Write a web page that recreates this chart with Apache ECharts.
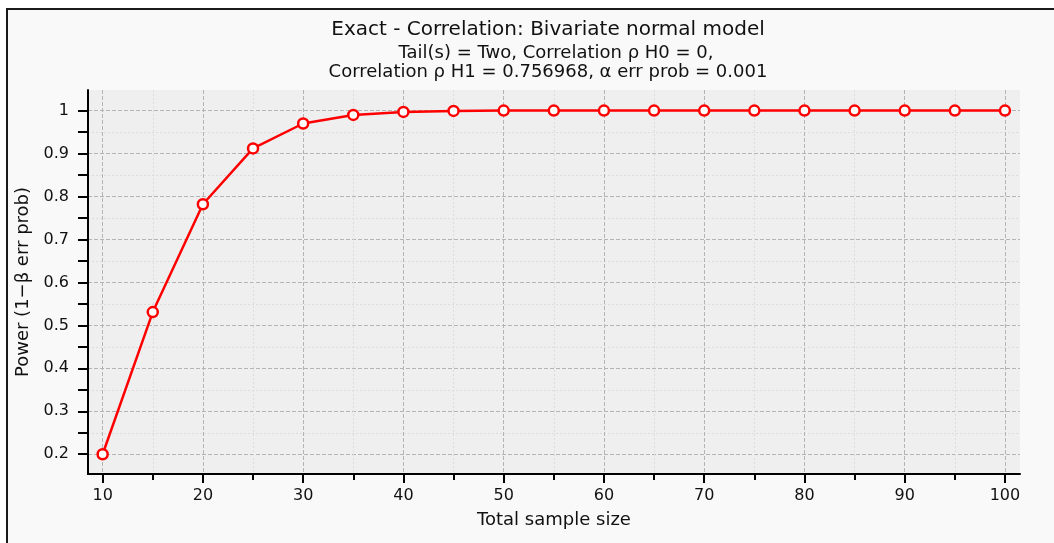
<!DOCTYPE html>
<html>
<head>
<meta charset="utf-8">
<script src="https://cdn.jsdelivr.net/npm/echarts@6/dist/echarts.min.js"></script>
<style>
html,body{margin:0;padding:0;background:#ffffff;}
#chart{width:1054px;height:543px;}
</style>
</head>
<body>
<div id="chart"></div>
<script>
// ---- data ----
const sampleSizes = [10,15,20,25,30,35,40,45,50,55,60,65,70,75,80,85,90,95,100];
const powerValues = [0.200,0.531,0.782,0.912,0.970,0.990,0.997,0.9993,1,1,1,1,1,1,1,1,1,1,1];
const xMajorTicks = [10,20,30,40,50,60,70,80,90,100];
const xMinorTicks = [15,25,35,45,55,65,75,85,95];
const yMajorTicks = [0.2,0.3,0.4,0.5,0.6,0.7,0.8,0.9,1];
const yMinorTicks = [0.25,0.35,0.45,0.55,0.65,0.75,0.85,0.95];
const titleLines = [
  'Exact - Correlation: Bivariate normal model',
  'Tail(s) = Two, Correlation \u03c1 H0 = 0,',
  'Correlation \u03c1 H1 = 0.756968, \u03b1 err prob = 0.001'
];
const xName = 'Total sample size';
const yName = 'Power (1\u2212\u03b2 err prob)';

const FONT = 'DejaVu Sans';
const X_MIN = 8.54, X_MAX = 101.5;
const Y_MIN = 0.154, Y_MAX = 1.048;

const chart = echarts.init(document.getElementById('chart'), null, {renderer:'canvas'});

const hiddenLabel = {show:false};
const titleStyle = (size) => ({fontFamily: FONT, fontSize: size, fontWeight: 'normal', color: '#111'});
const option = {
  backgroundColor: '#ffffff',
  animation: false,
  graphic: [{
    type: 'rect', z: -100, silent: true,
    shape: {x: 7, y: 9, width: 1100, height: 600},
    style: {fill: '#f9f9f9', stroke: '#1a1a1a', lineWidth: 2}
  }],
  title: [
    {text: titleLines[0], left: 543, textAlign: 'center', top: 15, textStyle: titleStyle(20)},
    {text: titleLines[1], left: 551, textAlign: 'center', top: 39, textStyle: titleStyle(18)},
    {text: titleLines[2], left: 543, textAlign: 'center', top: 58, textStyle: titleStyle(18)}
  ],
  grid: {left: 88, top: 90, right: 34, bottom: 69, show: true, backgroundColor: '#efefef', borderWidth: 0},
  xAxis: [
    { // major
      type: 'value', min: X_MIN, max: X_MAX,
      name: xName, nameLocation: 'middle', nameGap: 37,
      nameTextStyle: {fontFamily: FONT, fontSize: 18, color: '#111'},
      axisLine: {show: true, onZero: false, lineStyle: {color: '#000', width: 2}},
      axisTick: {show: true, inside: false, length: 9, lineStyle: {color: '#000', width: 2}, customValues: xMajorTicks},
      axisLabel: {show: true, customValues: xMajorTicks, margin: 14, fontFamily: FONT, fontSize: 16, color: '#111'},
      splitLine: {show: true, lineStyle: {color: '#b4b4b4', type: [4, 2], width: 1}}
    },
    { // minor
      type: 'value', min: X_MIN, max: X_MAX, position: 'bottom',
      axisLine: {show: false, onZero: false},
      axisTick: {show: true, length: 6, lineStyle: {color: '#000', width: 2}, customValues: xMinorTicks},
      axisLabel: hiddenLabel,
      splitLine: {show: true, lineStyle: {color: '#dcdcdc', type: [2, 2], width: 1}}
    }
  ],
  yAxis: [
    {
      type: 'value', min: Y_MIN, max: Y_MAX,
      name: yName, nameLocation: 'middle', nameGap: 52,
      nameTextStyle: {fontFamily: FONT, fontSize: 18, color: '#111'},
      axisLine: {show: true, onZero: false, lineStyle: {color: '#000', width: 2}},
      axisTick: {show: true, length: 10, lineStyle: {color: '#000', width: 2}, customValues: yMajorTicks},
      axisLabel: {show: true, customValues: yMajorTicks, margin: 19, fontFamily: FONT, fontSize: 16, color: '#111',
                  formatter: v => String(Math.round(v * 10) / 10)},
      splitLine: {show: true, lineStyle: {color: '#b4b4b4', type: [4, 2], width: 1}}
    },
    {
      type: 'value', min: Y_MIN, max: Y_MAX, position: 'left',
      axisLine: {show: false, onZero: false},
      axisTick: {show: true, length: 10, lineStyle: {color: '#000', width: 2}, customValues: yMinorTicks},
      axisLabel: hiddenLabel,
      splitLine: {show: true, lineStyle: {color: '#dcdcdc', type: [2, 2], width: 1}}
    }
  ],
  series: [{
    type: 'line',
    xAxisIndex: 0, yAxisIndex: 0,
    data: sampleSizes.map((x, i) => [x, powerValues[i]]),
    lineStyle: {color: '#ff0000', width: 2.5},
    symbol: 'circle', symbolSize: 10,
    itemStyle: {color: '#ffffff', borderColor: '#ff0000', borderWidth: 2.5},
    z: 10
  }]
};
chart.setOption(option);
</script>
</body>
</html>
